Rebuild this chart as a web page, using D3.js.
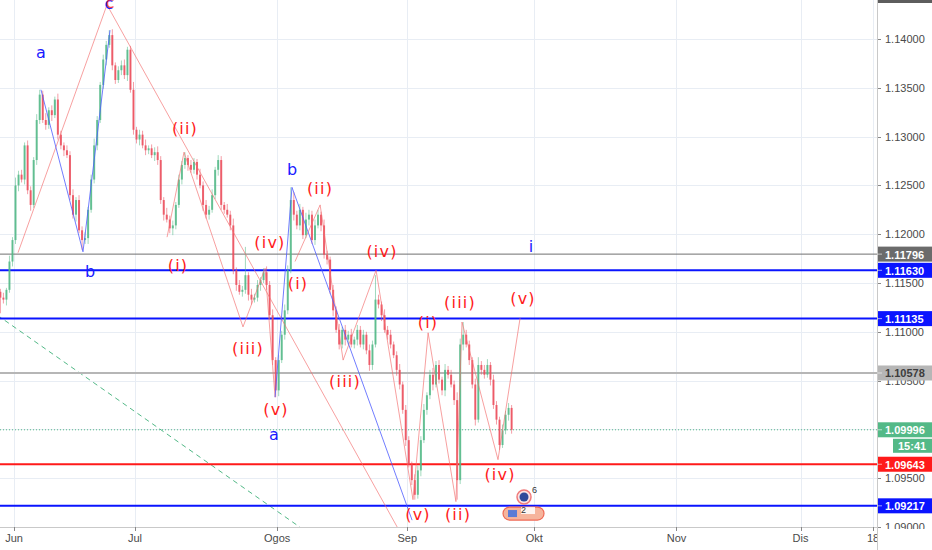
<script src="https://d3js.org/d3.v7.min.js"></script>
<style>
  body { margin: 0; background: #fff; }
</style>
<body>
<script>
  // ---- data ----
  // half-day candles, trading-day index starts at Jun 3 = 0
  const firstDay = -2.75;
  const firstOpen = 1.1145;
  const closes = [
    1.1141, 1.1135, 1.1133, 1.1143, 1.1172, 1.1194, 1.1250, 1.1261, 1.1256, 1.1291,
    1.1245, 1.1230, 1.1276, 1.1317, 1.1343, 1.1317, 1.1312, 1.1327, 1.1322, 1.1338,
    1.1302, 1.1291, 1.1286, 1.1281, 1.1240, 1.1220, 1.1235, 1.1204, 1.1194, 1.1196,
    1.1225, 1.1256, 1.1291, 1.1317, 1.1353, 1.1379, 1.1394, 1.1404, 1.1373, 1.1358,
    1.1368, 1.1373, 1.1363, 1.1389, 1.1348, 1.1307, 1.1297, 1.1302, 1.1291, 1.1286,
    1.1288, 1.1281, 1.1284, 1.1276, 1.1235, 1.1220, 1.1215, 1.1206, 1.1209, 1.1230,
    1.1256, 1.1271, 1.1278, 1.1271, 1.1266, 1.1274, 1.1261, 1.1250, 1.1230, 1.1220,
    1.1225, 1.1240, 1.1266, 1.1276, 1.1230, 1.1225, 1.1220, 1.1209, 1.1163, 1.1148,
    1.1141, 1.1143, 1.1158, 1.1138, 1.1133, 1.1135, 1.1148, 1.1153, 1.1161, 1.1148,
    1.1117, 1.1071, 1.1040, 1.1071, 1.1097, 1.1122, 1.1163, 1.1235, 1.1220, 1.1209,
    1.1225, 1.1199, 1.1215, 1.1220, 1.1194, 1.1209, 1.1220, 1.1209, 1.1179, 1.1174,
    1.1143, 1.1122, 1.1102, 1.1087, 1.1102, 1.1092, 1.1097, 1.1087, 1.1092, 1.1102,
    1.1087, 1.1097, 1.1081, 1.1066, 1.1087, 1.1133, 1.1128, 1.1117, 1.1102, 1.1097,
    1.1087, 1.1076, 1.1061, 1.1046, 1.1020, 1.0989, 1.0964, 1.0948, 1.0933, 1.0958,
    1.0989, 1.1020, 1.1035, 1.1056, 1.1046, 1.1066, 1.1051, 1.1040, 1.1061, 1.1056,
    1.1046, 1.1030, 1.0948, 1.1087, 1.1097, 1.1087, 1.1071, 1.1046, 1.1010, 1.1066,
    1.1061, 1.1056, 1.1066, 1.1051, 1.1025, 1.1010, 1.0984, 1.0999, 1.1015, 1.1022,
    1.09996
  ];
  // wick sizes in pips above / below the body
  const wickUp = [
    4,3,5,2,6,3,8,4,5,3, 5,4,3,6,5,4,7,3,5,3, 6,4,3,5,4,6,3,5,4,6,
    3,5,7,4,3,5,4,5,6,3, 4,5,6,3,4,8,3,5,4,6, 3,4,5,6,4,3,7,4,5,3,
    5,4,6,3,5,4,3,6,4,5, 4,6,3,5,4,3,6,4,7,3, 5,4,29,3,6,4,5,3,4,6,
    4,6,3,5,4,6,5,13,8,4, 6,3,7,5,4,6,5,3,6,4, 3,5,4,6,3,5,4,6,3,5,
    4,5,3,6,4,25,5,3,6,4, 5,3,4,6,3,5,4,3,6,5, 4,6,3,5,7,4,5,3,6,4,
    5,4,8,6,13,5,4,3,6,8, 4,5,6,3,5,4,3,6,4,5, 3
  ];
  const wickDn = [
    5,16,4,6,3,5,4,6,3,5, 4,6,3,5,4,3,5,4,6,3, 5,4,6,3,5,4,7,3,10,4,
    6,3,4,5,3,4,6,3,5,4, 3,5,4,6,3,5,4,6,3,5, 4,3,6,5,4,6,3,5,7,4,
    3,5,4,6,3,4,5,3,6,4, 5,3,4,6,5,4,3,5,4,6, 3,5,4,6,5,3,4,6,3,5,
    4,5,7,6,3,5,4,3,6,4, 5,4,3,6,4,5,3,6,4,5, 4,6,3,5,4,6,5,3,4,6,
    3,5,4,6,5,3,4,6,3,5, 4,3,6,5,4,6,3,5,5,4, 6,3,5,4,6,3,4,5,6,4,
    3,5,20,4,6,3,5,4,6,3, 5,4,3,6,4,5,5,3,4,6, 4
  ];

  const priceTicks = [1.14, 1.135, 1.13, 1.125, 1.12, 1.115, 1.11, 1.105, 1.10, 1.095, 1.09];
  const monthLabels = ["Jun", "Jul", "Ogos", "Sep", "Okt", "Nov", "Dis", "18"];
  const monthDays = [0, 20, 43.5, 65, 86, 109.5, 130, 142];

  // horizontal levels
  const levelPrices = [1.11796, 1.11630, 1.11135, 1.10578, 1.09643, 1.09217];
  const levelKinds  = ["gray", "blue", "blue", "light", "red", "blue"];
  const lastPrice = 1.09996;
  const lastTime = "15:41";

  // wave drawings [day, price]
  const waveC = [[0.66, 1.1181], [15.37, 1.1435], [67.1, 1.0858]];
  const wave1 = [[25.3, 1.1197], [28.1, 1.1284], [37.85, 1.1105], [41.5, 1.1165], [43.15, 1.1033]];
  const wave2 = [[46.45, 1.1172], [50.6, 1.1230], [54.4, 1.1071], [59.85, 1.1163], [65.95, 1.0928]];
  const wave3 = [[65.95, 1.0928], [68.45, 1.1099], [73.05, 1.0926], [74.05, 1.1110], [80.0, 1.0969], [83.65, 1.1114]];
  const blue1 = [[4.46, 1.1348], [11.4, 1.1182], [15.87, 1.1409]];
  const blue2 = [[43.15, 1.1033], [45.95, 1.1248], [65.8, 1.0907]];
  const trend = [[-2.75, 1.1117], [63.8, 1.0828]];

  // wave labels [text, day, price, colour]
  const waveLabels = [
    ["a", 4.46, 1.13857, "blue"], ["b", 12.56, 1.11613, "blue"], ["c", 15.7, 1.14359, "blue"],
    ["b", 45.95, 1.12658, "blue"], ["a", 42.98, 1.09943, "blue"], ["i", 85.45, 1.11869, "blue"],
    ["c", 15.9, 1.14379, "red"],
    ["(ii)", 28.26, 1.13088, "red"], ["(i)", 27.1, 1.11684, "red"], ["(iv)", 42.31, 1.1191, "red"],
    ["(iii)", 38.68, 1.10824, "red"], ["(v)", 43.31, 1.10199, "red"],
    ["(ii)", 50.58, 1.12473, "red"], ["(i)", 46.94, 1.115, "red"], ["(iv)", 60.83, 1.11818, "red"],
    ["(iii)", 54.71, 1.10486, "red"], ["(v)", 66.78, 1.09123, "red"],
    ["(i)", 68.43, 1.111, "red"], ["(iii)", 73.72, 1.11305, "red"], ["(ii)", 73.39, 1.09123, "red"],
    ["(v)", 84.13, 1.11346, "red"], ["(iv)", 80.33, 1.09533, "red"]
  ];

  // economic event markers [day, price]
  const eventAt = [84.3, 1.09184];

  // ---- build candles ----
  const candles = closes.map((c, i) => {
    const o = i === 0 ? firstOpen : closes[i - 1];
    return {
      day: firstDay + 0.5 * i,
      open: o,
      close: c,
      high: Math.max(o, c) + wickUp[i] * 0.0001,
      low: Math.min(o, c) - wickDn[i] * 0.0001
    };
  });

  // ---- layout ----
  const W = 932, H = 550;
  const plotW = 877, plotH = 527;

  const x = d3.scaleLinear().domain([0, 142]).range([14, 14 + 6.05 * 142]);
  const y = d3.scaleLinear().domain([1.09, 1.14]).range([527, 39]);

  const svg = d3.select("body").append("svg")
    .attr("width", W)
    .attr("height", H)
    .style("display", "block");

  svg.append("rect").attr("width", W).attr("height", H).attr("fill", "#ffffff");

  const defs = svg.append("defs");
  defs.append("clipPath").attr("id", "plot")
    .append("rect").attr("width", plotW).attr("height", plotH);
  defs.append("clipPath").attr("id", "paxis")
    .append("rect").attr("x", plotW).attr("y", 0).attr("width", W - plotW).attr("height", plotH + 2);

  const plot = svg.append("g").attr("clip-path", "url(#plot)");

  // grid
  plot.selectAll(".hgrid").data(priceTicks).join("line")
    .attr("x1", 0).attr("x2", plotW)
    .attr("y1", d => Math.round(y(d)) + 0.5).attr("y2", d => Math.round(y(d)) + 0.5)
    .attr("stroke", "#e8edf4");
  plot.selectAll(".vgrid").data(monthDays).join("line")
    .attr("y1", 0).attr("y2", plotH)
    .attr("x1", d => Math.round(x(d)) + 0.5).attr("x2", d => Math.round(x(d)) + 0.5)
    .attr("stroke", "#e8edf4");

  // green dashed trend line
  const line = d3.line().x(d => x(d[0])).y(d => y(d[1]));
  plot.append("path").attr("d", line(trend))
    .attr("fill", "none").attr("stroke", "#53b987").attr("stroke-width", 1)
    .attr("stroke-dasharray", "5,4");

  // horizontal levels
  const levelColor = { gray: "#707070", blue: "#0a14ff", light: "#b6b6b6", red: "#ff1a1a" };
  const levelWidth = { gray: 1, blue: 2, light: 2, red: 2 };
  plot.selectAll(".level").data(levelPrices).join("line")
    .attr("x1", 0).attr("x2", plotW)
    .attr("y1", d => y(d)).attr("y2", d => y(d))
    .attr("stroke", (d, i) => levelColor[levelKinds[i]])
    .attr("stroke-width", (d, i) => levelWidth[levelKinds[i]]);

  plot.append("line")
    .attr("x1", 0).attr("x2", plotW)
    .attr("y1", y(lastPrice)).attr("y2", y(lastPrice))
    .attr("stroke", "#53b987").attr("stroke-dasharray", "1,2");

  // candles
  const up = "#53b987", dn = "#eb4d5c";
  const cg = plot.append("g");
  cg.selectAll(".wick").data(candles).join("line")
    .attr("x1", d => x(d.day)).attr("x2", d => x(d.day))
    .attr("y1", d => y(d.high)).attr("y2", d => y(d.low))
    .attr("stroke", d => d.close >= d.open ? up : dn)
    .attr("stroke-opacity", 0.55)
    .attr("stroke-width", 1);
  cg.selectAll(".body").data(candles).join("rect")
    .attr("x", d => x(d.day) - 1)
    .attr("width", 2)
    .attr("y", d => y(Math.max(d.open, d.close)))
    .attr("height", d => Math.max(1, Math.abs(y(d.open) - y(d.close))))
    .attr("fill", d => d.close >= d.open ? up : dn)
    .attr("fill-opacity", 0.85);

  // wave lines
  [waveC, wave1, wave2, wave3].forEach(w => {
    plot.append("path").attr("d", line(w))
      .attr("fill", "none").attr("stroke", "#f26d6d").attr("stroke-opacity", 0.65)
      .attr("stroke-width", 1);
  });
  [blue1, blue2].forEach(w => {
    plot.append("path").attr("d", line(w))
      .attr("fill", "none").attr("stroke", "#4d5cff").attr("stroke-opacity", 0.8)
      .attr("stroke-width", 1);
  });

  // wave labels
  plot.selectAll(".wl").data(waveLabels).join("text")
    .attr("x", d => x(d[1]))
    .attr("y", d => y(d[2]))
    .attr("text-anchor", "middle")
    .attr("dominant-baseline", "central")
    .attr("font-family", "DejaVu Sans, sans-serif")
    .attr("font-size", 16)
    .attr("letter-spacing", d => d[0].length > 1 ? 1.2 : 0)
    .attr("fill", d => d[3] === "blue" ? "#1a1aff" : "#ff1a1a")
    .attr("fill-opacity", d => d[0] === "c" && d[3] === "red" ? 0.8 : 1)
    .text(d => d[0]);

  // event icons
  const ev = plot.append("g");
  const evX = x(eventAt[0]), evY = y(eventAt[1]);
  ev.append("circle").attr("cx", evX).attr("cy", evY - 12).attr("r", 7)
    .attr("fill", "#fbe3e3").attr("stroke", "#f07a7a").attr("stroke-width", 1.5);
  ev.append("circle").attr("cx", evX).attr("cy", evY - 12).attr("r", 4.5).attr("fill", "#2f4a9a");
  ev.append("text").attr("x", evX + 8).attr("y", evY - 16)
    .attr("font-family", "Liberation Sans, Arial, sans-serif").attr("font-size", 9)
    .attr("fill", "#333").text("6");
  ev.append("rect").attr("x", evX - 21).attr("y", evY - 2).attr("width", 41).attr("height", 13)
    .attr("rx", 6.5).attr("fill", "#f6b49c").attr("stroke", "#ef6a55").attr("stroke-width", 1.2);
  ev.append("rect").attr("x", evX - 16).attr("y", evY + 1).attr("width", 9).attr("height", 7)
    .attr("fill", "#5b7bd6");
  ev.append("rect").attr("x", evX - 3).attr("y", evY - 2).attr("width", 14).attr("height", 7)
    .attr("fill", "#ffffff").attr("fill-opacity", 0.85);
  ev.append("text").attr("x", evX - 3).attr("y", evY + 4)
    .attr("font-family", "Liberation Sans, Arial, sans-serif").attr("font-size", 9)
    .attr("fill", "#333").text("2");

  // ---- price axis ----
  const axisFont = "Liberation Sans, Arial, sans-serif";
  svg.append("rect").attr("x", plotW).attr("y", 0).attr("width", W - plotW).attr("height", H).attr("fill", "#fff");
  const pa = svg.append("g").attr("clip-path", "url(#paxis)");
  pa.selectAll(".pt").data(priceTicks).join("line")
    .attr("x1", plotW).attr("x2", plotW + 4)
    .attr("y1", d => Math.round(y(d)) + 0.5).attr("y2", d => Math.round(y(d)) + 0.5)
    .attr("stroke", "#888");
  pa.selectAll(".pl").data(priceTicks).join("text")
    .attr("x", plotW + 8)
    .attr("y", d => y(d))
    .attr("dominant-baseline", "central")
    .attr("font-family", axisFont).attr("font-size", 11)
    .attr("fill", "#4a4a4a")
    .text(d => d3.format(".5f")(d));

  // level tags
  const tagFill = { gray: "#6b6b6b", blue: "#0a14ff", light: "#b6b6b6", red: "#ff1a1a" };
  const tagText = { gray: "#fff", blue: "#fff", light: "#3d3d3d", red: "#fff" };
  const tags = levelPrices.map((p, i) => ({ p, kind: levelKinds[i] }))
    .concat([{ p: lastPrice, kind: "last" }]);
  const tg = pa.selectAll(".tag").data(tags).join("g")
    .attr("transform", d => `translate(${plotW + 1},${y(d.p)})`);
  tg.append("rect").attr("x", 0).attr("y", -7.5).attr("width", W - plotW - 1).attr("height", 15)
    .attr("fill", d => d.kind === "last" ? "#53b987" : tagFill[d.kind]);
  tg.append("line").attr("x1", 0).attr("x2", 4).attr("y1", 0).attr("y2", 0)
    .attr("stroke", "#fff").attr("stroke-opacity", 0.6);
  tg.append("text").attr("x", 7).attr("y", 0.5)
    .attr("dominant-baseline", "central")
    .attr("font-family", axisFont).attr("font-size", 11).attr("font-weight", "bold")
    .attr("fill", d => d.kind === "last" ? "#fff" : tagText[d.kind])
    .text(d => d3.format(".5f")(d.p));

  // countdown tag
  pa.append("rect").attr("x", plotW + 16).attr("y", y(lastPrice) + 9).attr("width", W - plotW - 16).attr("height", 14)
    .attr("fill", "#53b987");
  pa.append("text").attr("x", plotW + 21).attr("y", y(lastPrice) + 16.5)
    .attr("dominant-baseline", "central")
    .attr("font-family", axisFont).attr("font-size", 11).attr("font-weight", "bold")
    .attr("fill", "#fff").text(lastTime);

  // top partial tag
  pa.append("rect").attr("x", plotW + 1).attr("y", 0).attr("width", W - plotW - 1).attr("height", 3)
    .attr("fill", "#5d5d5d");

  svg.append("line").attr("x1", plotW + 0.5).attr("x2", plotW + 0.5).attr("y1", 0).attr("y2", H)
    .attr("stroke", "#c9c9c9");

  // ---- time axis ----
  const ta = svg.append("g");
  ta.append("rect").attr("x", 0).attr("y", plotH).attr("width", plotW).attr("height", H - plotH).attr("fill", "#fff");
  ta.append("line").attr("x1", 0).attr("x2", plotW).attr("y1", plotH + 0.5).attr("y2", plotH + 0.5)
    .attr("stroke", "#c9c9c9");
  defs.append("clipPath").attr("id", "taxis")
    .append("rect").attr("x", 0).attr("y", plotH).attr("width", plotW).attr("height", H - plotH);
  const tl = ta.append("g").attr("clip-path", "url(#taxis)");
  tl.selectAll(".tt").data(monthDays).join("line")
    .attr("x1", d => Math.round(x(d)) + 0.5).attr("x2", d => Math.round(x(d)) + 0.5)
    .attr("y1", plotH).attr("y2", plotH + 4)
    .attr("stroke", "#888");
  tl.selectAll(".tx").data(monthLabels).join("text")
    .attr("x", (d, i) => x(monthDays[i]))
    .attr("y", plotH + 15)
    .attr("text-anchor", "middle")
    .attr("font-family", axisFont).attr("font-size", 11)
    .attr("fill", "#4a4a4a")
    .text(d => d);
</script>
</body>
